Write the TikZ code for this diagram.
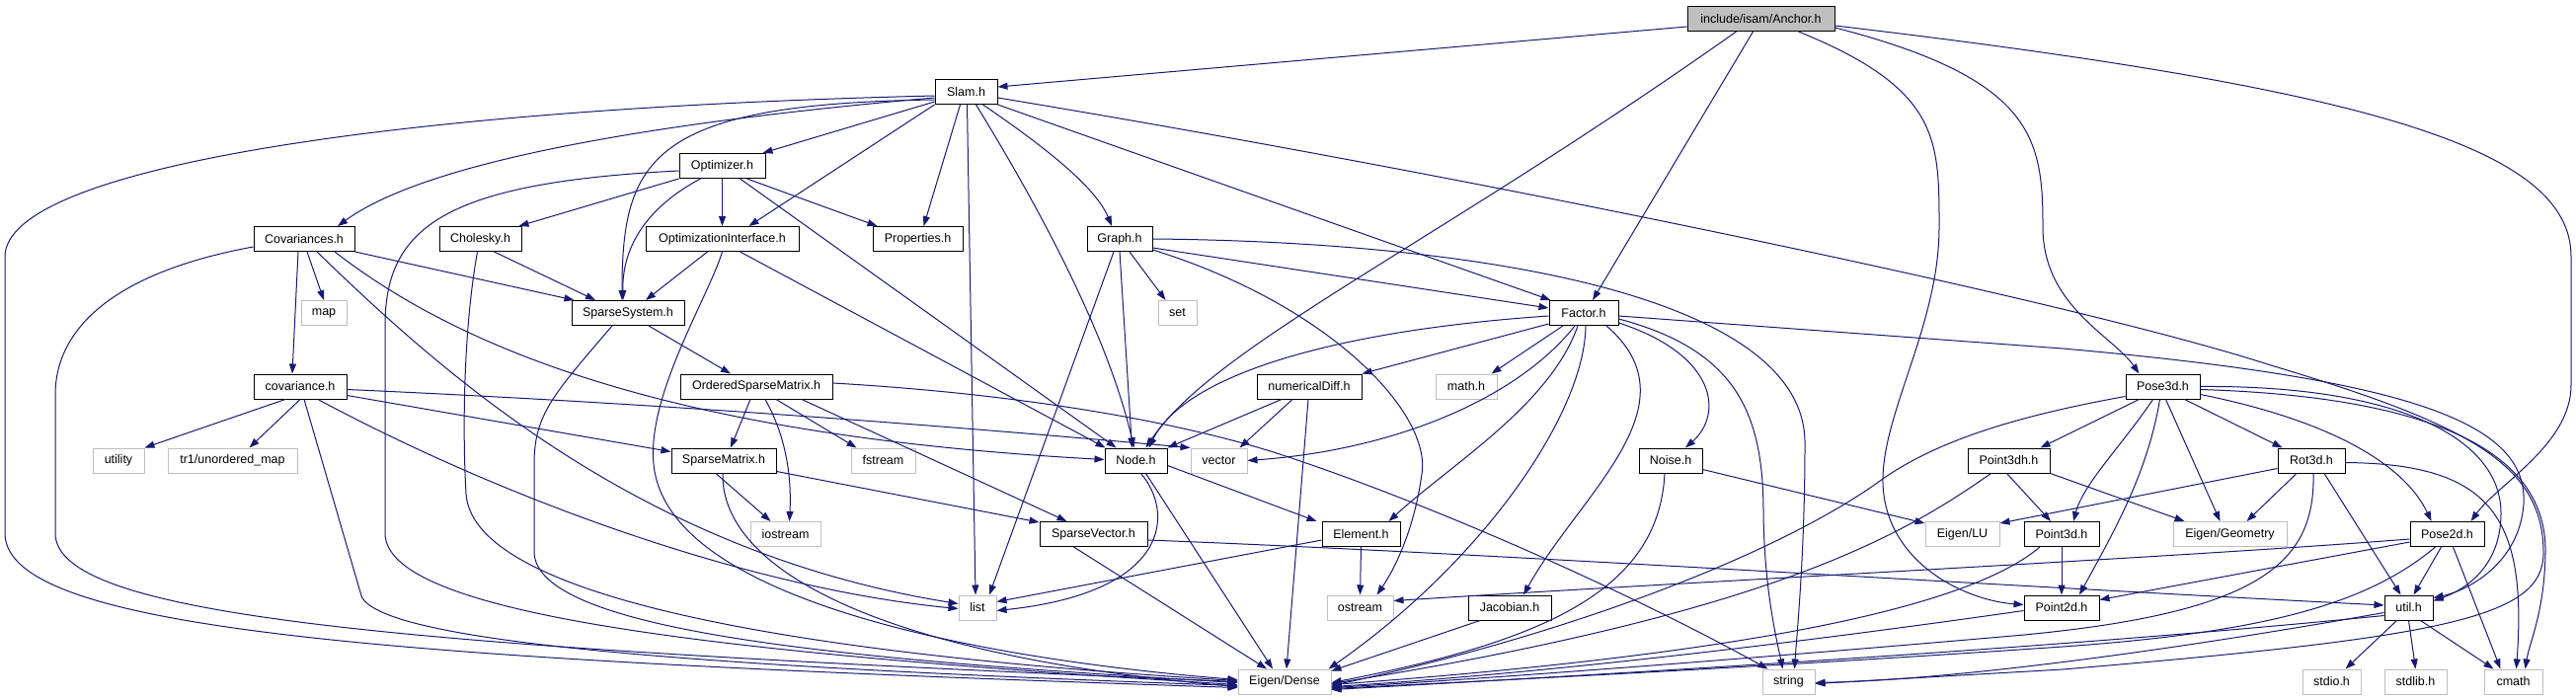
\documentclass[tikz,border=0pt]{standalone}
\usepackage{fontspec}
\setmainfont{Liberation Sans}
\usetikzlibrary{arrows.meta}
\definecolor{edgeblue}{HTML}{191970}
\definecolor{extgray}{HTML}{BFBFBF}
\definecolor{rootgray}{HTML}{BFBFBF}
\begin{document}
\begin{tikzpicture}[x=1pt,y=-1pt,
  hdr/.style={draw=black, line width=1pt, fill=white, minimum height=25pt, inner sep=0pt, font=\fontsize{12.5pt}{15pt}\selectfont},
  ext/.style={hdr, draw=extgray},
  rootbox/.style={hdr, fill=rootgray},
  dep/.style={draw=edgeblue, line width=1pt, -{Triangle[length=10pt,width=7pt]}}]
\useasboundingbox[fill=white] (0,0) rectangle (2609,709);
% nodes
\node[rootbox, minimum width=149pt] (root) at (1783.5,19) {include/isam/Anchor.h};
\node[hdr, minimum width=63pt] (slam) at (978.5,93) {Slam.h};
\node[hdr, minimum width=87pt] (opt) at (731.5,168) {Optimizer.h};
\node[hdr, minimum width=102pt] (covs) at (308,242) {Covariances.h};
\node[hdr, minimum width=83pt] (chol) at (486.5,242) {Cholesky.h};
\node[hdr, minimum width=155pt] (oi) at (731.5,242) {OptimizationInterface.h};
\node[hdr, minimum width=91pt] (props) at (929.5,242) {Properties.h};
\node[hdr, minimum width=66pt] (graph) at (1134,242) {Graph.h};
\node[ext, minimum width=46pt] (mapH) at (328,317) {map};
\node[hdr, minimum width=114pt] (ss) at (636,317) {SparseSystem.h};
\node[ext, minimum width=39pt] (setH) at (1192.5,317) {set};
\node[hdr, minimum width=70pt] (factor) at (1604,317) {Factor.h};
\node[hdr, minimum width=94pt] (cov) at (304,391.5) {covariance.h};
\node[hdr, minimum width=154pt] (osm) at (766,391.5) {OrderedSparseMatrix.h};
\node[hdr, minimum width=106pt] (ndiff) at (1326,391.5) {numericalDiff.h};
\node[ext, minimum width=62pt] (mathH) at (1485,391.5) {math.h};
\node[hdr, minimum width=75pt] (pose3d) at (2190.5,391.5) {Pose3d.h};
\node[ext, minimum width=52pt] (utility) at (120,466.5) {utility};
\node[ext, minimum width=131pt] (tr1) at (235.5,466.5) {tr1/unordered\_map};
\node[hdr, minimum width=106pt] (sm) at (733,466.5) {SparseMatrix.h};
\node[ext, minimum width=65pt] (fstream) at (894.5,466.5) {fstream};
\node[hdr, minimum width=63pt] (nodeh) at (1150.5,466.5) {Node.h};
\node[ext, minimum width=57pt] (vectorH) at (1234.5,466.5) {vector};
\node[hdr, minimum width=64pt] (noise) at (1692,466.5) {Noise.h};
\node[hdr, minimum width=83pt] (p3dh) at (2034.5,466.5) {Point3dh.h};
\node[hdr, minimum width=68pt] (rot) at (2341,466.5) {Rot3d.h};
\node[ext, minimum width=71pt] (iostream) at (795.5,541) {iostream};
\node[hdr, minimum width=109pt] (sv) at (1107.5,541) {SparseVector.h};
\node[hdr, minimum width=79pt] (elem) at (1378.5,541) {Element.h};
\node[ext, minimum width=75pt] (luH) at (1987.5,541) {Eigen/LU};
\node[hdr, minimum width=76pt] (p3d) at (2088,541) {Point3d.h};
\node[ext, minimum width=115pt] (geom) at (2258.5,541) {Eigen/Geometry};
\node[hdr, minimum width=75pt] (pose2d) at (2478.5,541) {Pose2d.h};
\node[ext, minimum width=38pt] (listH) at (990,615.5) {list};
\node[ext, minimum width=67pt] (ostream) at (1377.5,615.5) {ostream};
\node[hdr, minimum width=84pt] (jac) at (1529,615.5) {Jacobian.h};
\node[hdr, minimum width=76pt] (p2d) at (2088,615.5) {Point2d.h};
\node[hdr, minimum width=49pt] (utilH) at (2439.5,615.5) {util.h};
\node[ext, minimum width=94pt] (dense) at (1301,690.5) {Eigen/Dense};
\node[ext, minimum width=53pt] (stringH) at (1811.5,690.5) {string};
\node[ext, minimum width=59pt] (stdioH) at (2361.5,690.5) {stdio.h};
\node[ext, minimum width=63pt] (stdlibH) at (2446.5,690.5) {stdlib.h};
\node[ext, minimum width=59pt] (cmathH) at (2545.5,690.5) {cmath};
% Anchor
\draw[dep] ([yshift=-8pt]root.west) -- ([yshift=5pt]slam.east);
\draw[dep] ([xshift=-25pt]root.south) .. controls (1450,250) and (1230,350) .. ([xshift=10pt]nodeh.north);
\draw[dep] ([xshift=-8pt]root.south) -- ([xshift=9pt]factor.north);
\draw[dep] ([xshift=38pt]root.south) .. controls (1964,90) and (1964,140) .. (1964,230) .. controls (1964,330) and (1905,420) .. (1907,490) .. controls (1910,570) and (1990,608) .. ([yshift=3pt]p2d.west);
\draw[dep] ([yshift=-9pt]root.east) .. controls (2060,80) and (2069,140) .. (2069,230) .. controls (2069,310) and (2140,340) .. ([xshift=-24pt]pose3d.north);
\draw[dep] ([yshift=-7pt]root.east) .. controls (2400,90) and (2604,150) .. (2604,260) -- (2604,390) .. controls (2604,450) and (2530,490) .. ([xshift=24pt]pose2d.north);
% Slam
\draw[dep] ([yshift=-4pt]slam.west) .. controls (400,110) and (5,170) .. (5,260) -- (5,540) .. controls (5,640) and (400,668) .. ([yshift=-6pt]dense.west);
\draw[dep] ([yshift=-6pt]slam.west) .. controls (650,125) and (430,165) .. ([xshift=34pt]covs.north);
\draw[dep] ([yshift=-8pt]slam.west) .. controls (660,105) and (630,160) .. ([xshift=-6pt]ss.north);
\draw[dep] ([yshift=-10pt]slam.west) -- ([xshift=-3pt]opt.north east);
\draw[dep] (slam.south west) -- ([xshift=27pt]oi.north);
\draw[dep] ([xshift=-6pt]slam.south) -- ([xshift=6pt]props.north);
\draw[dep] ([xshift=1pt]slam.south) -- ([xshift=-2pt]listH.north);
\draw[dep] ([xshift=10pt]slam.south) .. controls (1040,190) and (1120,330) .. ([xshift=-2pt]nodeh.north);
\draw[dep] ([xshift=17pt]slam.south) .. controls (1060,150) and (1110,190) .. ([xshift=-8pt]graph.north);
\draw[dep] (slam.south east) -- ([xshift=2pt]factor.north west);
\draw[dep] ([yshift=-6pt]slam.east) .. controls (1500,180) and (2100,305) .. (2300,370) .. controls (2500,430) and (2576,470) .. (2576,560) .. controls (2576,625) and (2480,645) .. (2089,678) -- ([yshift=-2pt]stringH.east);
% Optimizer
\draw[dep] ([yshift=-5pt]opt.west) .. controls (450,185) and (390,230) .. (390,330) -- (390,540) .. controls (390,620) and (700,660) .. ([yshift=-3pt]dense.west);
\draw[dep] (opt.south west) -- ([xshift=-3pt]chol.north east);
\draw[dep] ([xshift=-22pt]opt.south) .. controls (655,210) and (630,250) .. ([xshift=-5pt]ss.north);
\draw[dep] (opt.south) -- (oi.north);
\draw[dep] ([xshift=18pt]opt.south) -- ([xshift=-20pt]nodeh.north);
\draw[dep] ([xshift=25pt]opt.south) -- ([xshift=5pt]props.north west);
% Covariances
\draw[dep] ([yshift=-8pt]covs.west) .. controls (120,275) and (56,330) .. (56,400) -- (56,540) .. controls (56,625) and (400,655) .. (dense.west);
\draw[dep] ([xshift=-6pt]covs.south) -- ([xshift=-8pt]cov.north);
\draw[dep] ([xshift=3pt]covs.south) -- (mapH.north);
\draw[dep] ([xshift=13pt]covs.south) .. controls (450,380) and (650,560) .. ([yshift=4pt]listH.west);
\draw[dep] ([xshift=31pt]covs.south) .. controls (500,380) and (750,445) .. ([yshift=1pt]nodeh.west);
\draw[dep] (covs.south east) -- ([xshift=3pt]ss.north west);
% Cholesky
\draw[dep] ([xshift=-3pt]chol.south) .. controls (470,330) and (468,430) .. (472,500) .. controls (480,620) and (900,668) .. ([yshift=1pt]dense.west);
\draw[dep] ([xshift=14pt]chol.south) -- ([xshift=-33pt]ss.north);
% OptimizationInterface
\draw[dep] ([xshift=-15pt]oi.south) -- ([xshift=18pt]ss.north);
\draw[dep] (oi.south) .. controls (718,300) and (655,400) .. (662,470) .. controls (675,610) and (1000,668) .. ([yshift=2pt]dense.west);
\draw[dep] ([xshift=18pt]oi.south) -- ([xshift=1pt]nodeh.north west);
% SparseSystem
\draw[dep] ([xshift=-16pt]ss.south) .. controls (560,400) and (541,420) .. (541,470) -- (541,560) .. controls (545,645) and (900,670) .. ([yshift=-1pt]dense.west);
\draw[dep] ([xshift=21pt]ss.south) -- ([xshift=-26pt]osm.north);
% covariance.h
\draw[dep] ([xshift=-15pt]cov.south) -- (utility.north east);
\draw[dep] (cov.south) -- ([xshift=17pt]tr1.north);
\draw[dep] ([xshift=4pt]cov.south) -- (365,600) .. controls (370,650) and (700,675) .. ([yshift=-4pt]dense.west);
\draw[dep] ([xshift=18pt]cov.south) .. controls (500,500) and (750,595) .. ([yshift=-1pt]listH.west);
\draw[dep] ([yshift=-9pt]cov.east) -- ([yshift=9pt]sm.west);
\draw[dep] ([yshift=-3pt]cov.east) .. controls (700,410) and (1000,435) .. (vectorH.north west);
% OrderedSparseMatrix
\draw[dep] ([xshift=-6pt]osm.south) -- ([xshift=7pt]sm.north);
\draw[dep] ([xshift=9pt]osm.south) .. controls (795,440) and (802,480) .. ([xshift=4pt]iostream.north);
\draw[dep] ([xshift=20pt]osm.south) -- ([xshift=-27pt]fstream.north);
\draw[dep] ([xshift=46pt]osm.south) -- ([xshift=-27pt]sv.north);
\draw[dep] ([yshift=3.5pt]osm.east) .. controls (1050,400) and (1200,430) .. (1290,458) .. controls (1450,510) and (1650,600) .. ([xshift=-21pt]stringH.north);
% SparseMatrix
\draw[dep] ([xshift=-8pt]sm.south) -- ([xshift=-15pt]iostream.north);
\draw[dep] ([yshift=-11pt]sm.east) -- ([yshift=12pt]sv.west);
\draw[dep] ([xshift=-1pt]sm.south) .. controls (730,580) and (900,665) .. ([yshift=-5pt]dense.west);
% Graph
\draw[dep] (graph.east) .. controls (1500,245) and (1830,300) .. (1828,450) .. controls (1828,560) and (1820,640) .. ([xshift=6pt]stringH.north);
\draw[dep] ([yshift=-9pt]graph.east) -- ([yshift=5pt]factor.west);
\draw[dep] ([yshift=-11pt]graph.east) .. controls (1350,310) and (1450,420) .. (1440,480) .. controls (1432,540) and (1410,580) .. ([xshift=17pt]ostream.north);
\draw[dep] ([xshift=10pt]graph.south) -- ([xshift=-12pt]setH.north);
\draw[dep] (graph.south) -- ([xshift=-4pt]nodeh.north);
\draw[dep] ([xshift=-6pt]graph.south) -- ([xshift=12pt]listH.north);
% Factor
\draw[dep] ([yshift=-3pt]factor.west) .. controls (1350,335) and (1200,380) .. ([xshift=13pt]nodeh.north);
\draw[dep] ([yshift=-11pt]factor.west) -- (ndiff.north east);
\draw[dep] ([xshift=-21pt]factor.south) -- ([xshift=-6pt]mathH.north east);
\draw[dep] ([xshift=-9pt]factor.south) .. controls (1540,400) and (1420,455) .. (vectorH.east);
\draw[dep] ([xshift=-6pt]factor.south) .. controls (1570,410) and (1470,470) .. ([xshift=-12pt]elem.north east);
\draw[dep] ([xshift=2pt]factor.south) .. controls (1605,420) and (1500,570) .. ([xshift=-3pt]dense.north east);
\draw[dep] ([xshift=23pt]factor.south) .. controls (1720,410) and (1600,500) .. ([xshift=14pt]jac.north);
\draw[dep] ([yshift=-10pt]factor.east) .. controls (1740,360) and (1745,420) .. ([xshift=15pt]noise.north);
\draw[dep] ([yshift=-6pt]factor.east) .. controls (1760,355) and (1786,420) .. (1786,520) .. controls (1787,600) and (1800,650) .. ([xshift=-6pt]stringH.north);
\draw[dep] ([yshift=-3pt]factor.east) -- (2089,353) .. controls (2450,385) and (2560,430) .. (2556,510) .. controls (2552,570) and (2500,598) .. ([yshift=10pt]utilH.east);
% Node
\draw[dep] ([yshift=-5pt]nodeh.east) -- ([xshift=-5pt]elem.north west);
\draw[dep] ([xshift=5pt]nodeh.south) .. controls (1190,520) and (1185,600) .. ([yshift=-3pt]listH.east);
\draw[dep] ([xshift=10pt]nodeh.south) -- ([xshift=-12pt]dense.north);
% SparseVector
\draw[dep] ([xshift=-20pt]sv.south) -- ([xshift=-18pt]dense.north);
\draw[dep] ([yshift=-6pt]sv.east) .. controls (1500,560) and (2000,592) .. ([yshift=2.5pt]utilH.west);
% Element
\draw[dep] ([yshift=-6pt]elem.west) -- ([yshift=6pt]listH.east);
\draw[dep] (elem.south) -- (ostream.north);
% numericalDiff
\draw[dep] ([xshift=-28pt]ndiff.south) -- (nodeh.north east);
\draw[dep] ([xshift=-17pt]ndiff.south) -- ([xshift=-8pt]vectorH.north east);
\draw[dep] ([xshift=-1pt]ndiff.south) -- ([xshift=2pt]dense.north);
% Jacobian
\draw[dep] ([xshift=-30pt]jac.south) -- ([yshift=-2pt]dense.north east);
% Noise
\draw[dep] ([yshift=-9pt]noise.east) -- ([yshift=11pt]luH.west);
\draw[dep] ([xshift=-6pt]noise.south) .. controls (1680,600) and (1560,650) .. ([yshift=-1pt]dense.east);
% Pose3d
\draw[dep] ([yshift=-10pt]pose3d.west) .. controls (2050,420) and (1960,445) .. (1900,490) .. controls (1800,560) and (1600,640) .. ([yshift=-4pt]dense.east);
\draw[dep] ([xshift=-24pt]pose3d.south) -- ([xshift=-10pt]p3dh.north east);
\draw[dep] ([xshift=-10pt]pose3d.south) .. controls (2150,450) and (2110,490) .. ([xshift=12pt]p3d.north);
\draw[dep] ([xshift=-3pt]pose3d.south) .. controls (2175,480) and (2140,540) .. ([xshift=18pt]p2d.north);
\draw[dep] ([xshift=3pt]pose3d.south) -- ([xshift=-10pt]geom.north);
\draw[dep] ([xshift=22pt]pose3d.south) -- ([xshift=5pt]rot.north west);
\draw[dep] ([yshift=-8pt]pose3d.east) .. controls (2380,430) and (2440,480) .. ([xshift=-16pt]pose2d.north);
\draw[dep] (pose3d.east) .. controls (2420,390) and (2533,440) .. (2533,520) .. controls (2533,575) and (2495,598) .. ([yshift=7pt]utilH.east);
\draw[dep] ([yshift=-3pt]pose3d.east) .. controls (2470,402) and (2580,460) .. (2578,560) .. controls (2577,620) and (2562,650) .. ([xshift=12pt]cmathH.north);
% Rot3d
\draw[dep] ([yshift=-2pt]rot.east) .. controls (2520,470) and (2560,520) .. ([xshift=3pt]cmathH.north);
\draw[dep] ([yshift=-8pt]rot.west) -- ([yshift=11pt]luH.east);
\draw[dep] ([xshift=-15pt]rot.south) -- ([xshift=17pt]geom.north);
\draw[dep] ([xshift=13pt]rot.south) -- ([xshift=-8pt]utilH.north);
\draw[dep] ([xshift=2pt]rot.south) .. controls (2345,570) and (2290,620) .. (2050,643) .. controls (1800,665) and (1500,688) .. ([yshift=-6pt]dense.east);
% Point3dh
\draw[dep] ([xshift=-2pt]p3dh.south) -- ([xshift=-11pt]p3d.north);
\draw[dep] (p3dh.south east) -- ([xshift=12pt]geom.north west);
\draw[dep] ([xshift=-18pt]p3dh.south) .. controls (1930,540) and (1800,620) .. ([yshift=-2pt]dense.east);
% Point3d
\draw[dep] (p3d.south) -- (p2d.north);
\draw[dep] ([xshift=-22pt]p3d.south) .. controls (2000,610) and (1800,660) .. ([yshift=-3pt]dense.east);
% Point2d
\draw[dep] ([yshift=-3pt]p2d.west) .. controls (1900,640) and (1600,680) .. ([yshift=-5pt]dense.east);
% Pose2d
\draw[dep] ([yshift=-8pt]pose2d.west) -- ([yshift=8pt]p2d.east);
\draw[dep] ([yshift=-5pt]pose2d.west) .. controls (2200,565) and (1700,590) .. ([yshift=7pt]ostream.east);
\draw[dep] ([xshift=-6pt]pose2d.south) -- ([xshift=5pt]utilH.north);
\draw[dep] ([xshift=6pt]pose2d.south) -- ([xshift=-13pt]cmathH.north);
\draw[dep] ([xshift=-12pt]pose2d.south) .. controls (2400,610) and (2300,640) .. (2089,655) .. controls (1800,675) and (1500,690) .. ([yshift=-7pt]dense.east);
% util
\draw[dep] ([xshift=-12pt]utilH.south) -- ([xshift=14pt]stdioH.north);
\draw[dep] (utilH.south) -- (stdlibH.north);
\draw[dep] ([xshift=12pt]utilH.south) -- ([xshift=-20pt]cmathH.north);
\draw[dep] ([yshift=-5pt]utilH.west) .. controls (2250,650) and (2000,688) .. ([yshift=-1pt]stringH.east);
\draw[dep] ([yshift=-8pt]utilH.west) .. controls (2200,645) and (1900,668) .. ([yshift=-8pt]dense.east);
\end{tikzpicture}
\end{document}
